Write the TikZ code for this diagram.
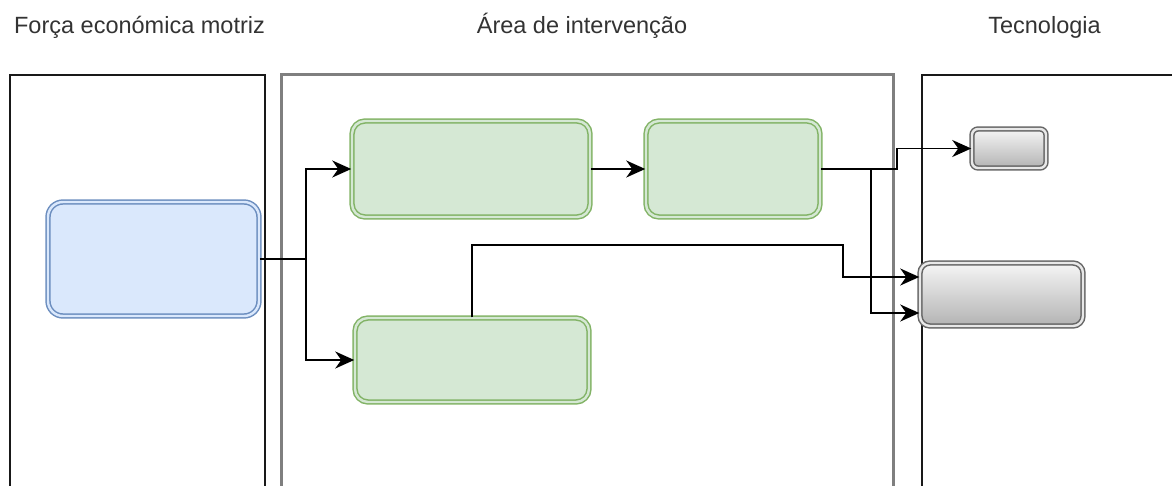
\documentclass[tikz,border=0pt]{standalone}
\usepackage{fontspec}
\setmainfont{Liberation Sans}
\usepackage{tikz}
\usetikzlibrary{shapes,arrows.meta}

\definecolor{textgray}{HTML}{333333}
\definecolor{bluefill}{HTML}{DAE8FC}
\definecolor{bluedraw}{HTML}{6C8EBF}
\definecolor{greenfill}{HTML}{D5E8D4}
\definecolor{greendraw}{HTML}{82B366}
\definecolor{graydraw}{HTML}{666666}
\definecolor{graytop}{HTML}{F5F5F5}
\definecolor{graybottom}{HTML}{B3B3B3}
\definecolor{lanegray}{HTML}{7F7F7F}

\tikzset{
    lane/.style={draw, rectangle, line width=2pt, minimum width=#1, minimum height=445pt, inner sep=0pt},
    header/.style={anchor=base, text=textgray, inner sep=0pt, font=\fontsize{23.5pt}{28pt}\selectfont},
    dbox/.style={draw, rectangle, inner sep=0pt, line width=1.5pt, double distance=2.4pt},
    bluebox/.style={dbox, draw=bluedraw, fill=bluefill, double=bluefill, rounded corners=15pt},
    greenbox/.style={dbox, draw=greendraw, fill=greenfill, double=greenfill, rounded corners=13pt},
    graybox/.style={dbox, draw=graydraw, top color=graytop, bottom color=graybottom, double=gray!18},
    conn/.style={line width=1.8pt, black, -{Stealth[length=19pt, width=17pt, inset=6pt]}},
    line/.style={line width=1.8pt, black}
}

\begin{document}
\begin{tikzpicture}[x=1pt, y=-1pt]
    \useasboundingbox (0, 0) rectangle (1172, 486);

    \node[lane=255pt, draw=black!90] (forca) at (137.5, 297.5) {};
    \node[lane=612pt, draw=lanegray, line width=3pt] (area) at (587, 297.5) {};
    \node[lane=278pt, draw=black!90] (tecno) at (1061, 297.5) {};

    \node[header] (hforca) at (139.5, 34) {Força económica motriz};
    \node[header] (harea) at (582, 34) {Área de intervenção};
    \node[header] (htecno) at (1044.5, 34) {Tecnologia};

    \node[bluebox, minimum width=211pt, minimum height=114pt] (blue) at (153.5, 259) {};
    \node[greenbox, minimum width=238pt, minimum height=96pt] (green1) at (471, 169) {};
    \node[greenbox, minimum width=174pt, minimum height=96pt] (green2) at (733, 169) {};
    \node[greenbox, minimum width=234pt, minimum height=84pt] (green3) at (472, 360) {};
    \node[graybox, rounded corners=6pt, minimum width=74pt, minimum height=39pt] (gray1) at (1009, 148.5) {};
    \node[graybox, rounded corners=10pt, minimum width=163pt, minimum height=63pt] (gray2) at (1001.5, 294.5) {};

    \coordinate (split) at (306, 259);
    \coordinate (bendup) at (897, 169);
    \coordinate (benddown) at (871, 169);
    \coordinate (top3) at (843, 245);

    \draw[line] (blue.east) -- (split);
    \draw[conn] (split) |- (green1.west);
    \draw[conn] (split) |- (green3.west);
    \draw[conn] (green1.east) -- (green2.west);
    \draw[conn] (green2.east) -- (bendup) |- (gray1.west);
    \draw[conn] (benddown) |- ([yshift=-18.5pt]gray2.west);
    \draw[conn] (green3.north) |- (top3) |- ([yshift=17.5pt]gray2.west);
\end{tikzpicture}
\end{document}
